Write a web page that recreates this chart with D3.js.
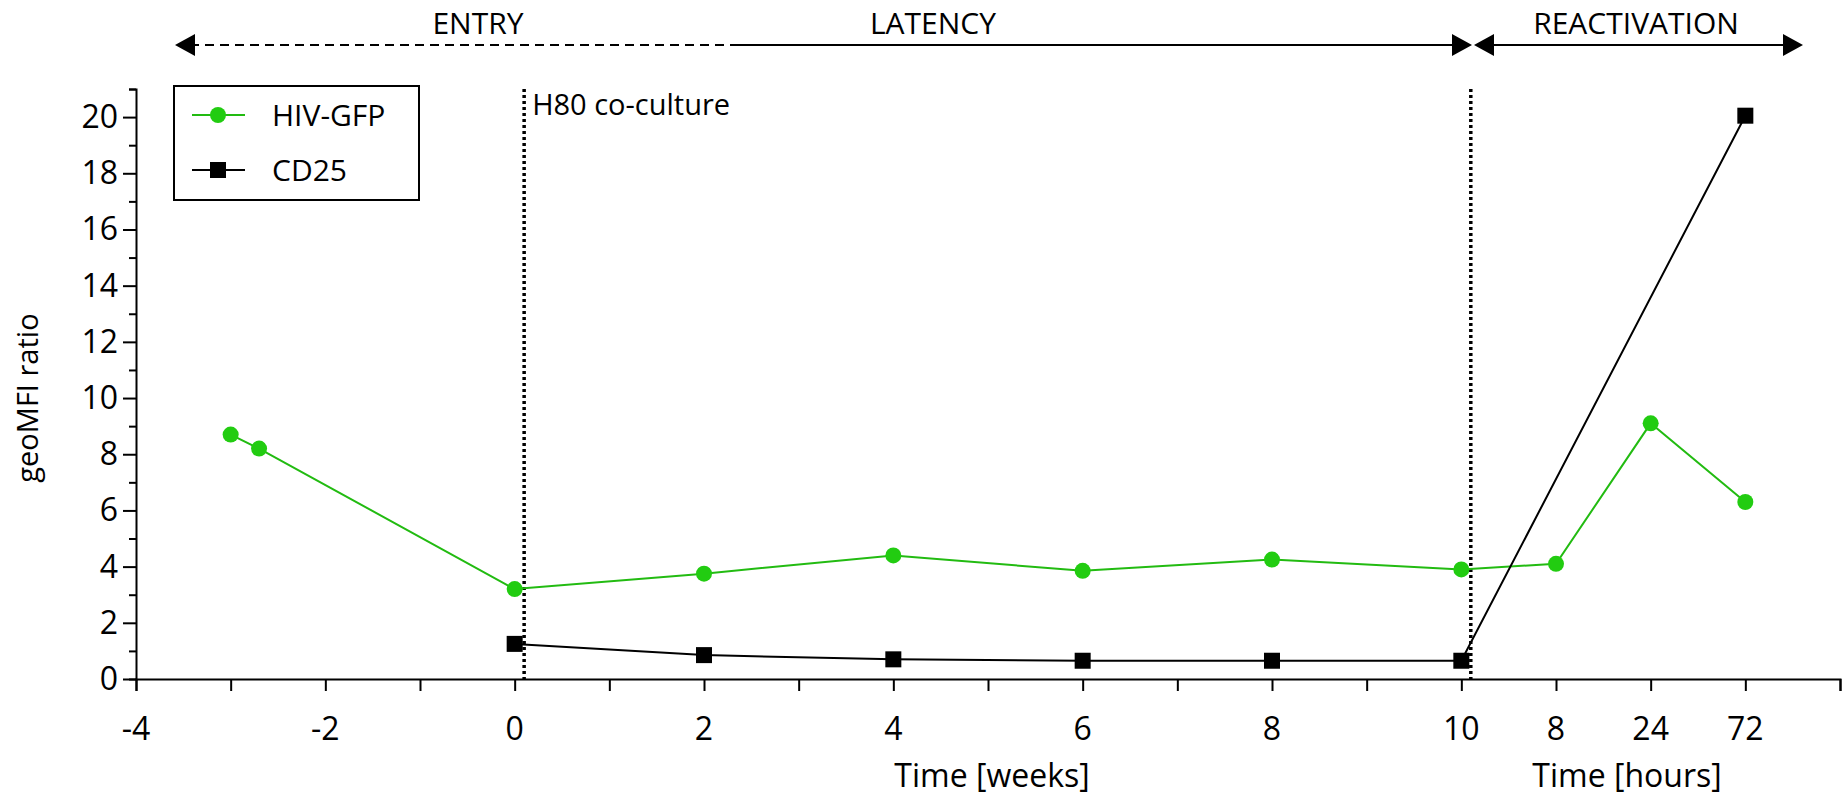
<!DOCTYPE html>
<html>
<head>
<script src="https://cdn.jsdelivr.net/npm/d3@7"></script>
<style>body{margin:0;background:#fff;font-family:"Open Sans",sans-serif;}</style>
</head>
<body>
<script>
var xTicks = [-4, -2, 0, 2, 4, 6, 8, 10, 11, 12, 13];
var xTickLabels = ["-4", "-2", "0", "2", "4", "6", "8", "10", "8", "24", "72"];
var gfpX = [-3, -2.7, 0, 2, 4, 6, 8, 10, 11, 12, 13];
var gfpY = [8.7, 8.2, 3.2, 3.75, 4.4, 3.85, 4.25, 3.9, 4.1, 9.1, 6.3];
var cdX = [0, 2, 4, 6, 8, 10, 13];
var cdY = [1.25, 0.85, 0.7, 0.65, 0.65, 0.65, 20.05];
var yTicks = [0, 2, 4, 6, 8, 10, 12, 14, 16, 18, 20];

var W = 1843, H = 800;
var svg = d3.select("body").append("svg").attr("width", W).attr("height", H);
var x = d3.scaleLinear().domain([-4, 14]).range([136, 1840]);
var y = d3.scaleLinear().domain([0, 21]).range([679, 89]);

// axes
var xa = svg.append("g").attr("transform", "translate(0," + y(0) + ")")
  .call(d3.axisBottom(x).tickValues(d3.range(-4, 15)).tickSize(12).tickFormat(""));
xa.selectAll("line").attr("stroke-width", 2);
xa.select(".domain").attr("stroke-width", 2);
svg.append("g").selectAll("text").data(xTicks).enter().append("text")
  .attr("x", function(d){return x(d)}).attr("y", y(0) + 61)
  .attr("text-anchor", "middle").attr("font-size", 32)
  .text(function(d, i){return xTickLabels[i]});

var ya = svg.append("g").attr("transform", "translate(" + x(-4) + ",0)")
  .call(d3.axisLeft(y).tickValues(d3.range(0, 22)).tickSize(7).tickFormat(""));
ya.selectAll("line").attr("stroke-width", 2);
ya.select(".domain").attr("stroke-width", 2);
ya.selectAll(".tick").filter(function(d){return d % 2 == 0}).select("line").attr("x2", -13);
svg.append("g").selectAll("text").data(yTicks).enter().append("text")
  .attr("x", x(-4) - 18).attr("y", function(d){return y(d) + 11})
  .attr("text-anchor", "end").attr("font-size", 32).text(function(d){return d});

svg.append("text").attr("transform", "translate(38," + y(10) + ") rotate(-90)")
  .attr("text-anchor", "middle").attr("font-size", 29).text("geoMFI ratio");
svg.append("text").attr("x", 992).attr("y", 787).attr("text-anchor", "middle")
  .attr("font-size", 32).text("Time [weeks]");
svg.append("text").attr("x", 1627).attr("y", 787).attr("text-anchor", "middle")
  .attr("font-size", 32).text("Time [hours]");

// dotted verticals
[0.1, 10.1].forEach(function(v){
  svg.append("line").attr("x1", x(v)).attr("x2", x(v)).attr("y1", y(21)).attr("y2", y(0))
    .attr("stroke", "#000").attr("stroke-width", 3.5).attr("stroke-dasharray", "3,3");
});
svg.append("text").attr("x", x(0.1) + 8).attr("y", 115).attr("font-size", 29).text("H80 co-culture");

// lines
var line = d3.line().x(function(d){return x(d[0])}).y(function(d){return y(d[1])});
var gfp = gfpX.map(function(v, i){return [v, gfpY[i]]});
var cd = cdX.map(function(v, i){return [v, cdY[i]]});
svg.append("path").attr("d", line(gfp)).attr("fill", "none").attr("stroke", "#22bb11").attr("stroke-width", 2);
svg.append("path").attr("d", line(cd)).attr("fill", "none").attr("stroke", "#000").attr("stroke-width", 2);
svg.selectAll("circle.g").data(gfp).enter().append("circle")
  .attr("cx", function(d){return x(d[0])}).attr("cy", function(d){return y(d[1])})
  .attr("r", 8).attr("fill", "#22cc11");
svg.selectAll("rect.c").data(cd).enter().append("rect")
  .attr("x", function(d){return x(d[0]) - 8}).attr("y", function(d){return y(d[1]) - 8})
  .attr("width", 16).attr("height", 16).attr("fill", "#000");

// legend
svg.append("rect").attr("x", 174).attr("y", 86).attr("width", 245).attr("height", 114)
  .attr("fill", "#fff").attr("stroke", "#000").attr("stroke-width", 2);
svg.append("line").attr("x1", 192).attr("x2", 245).attr("y1", 115).attr("y2", 115).attr("stroke", "#22bb11").attr("stroke-width", 2);
svg.append("circle").attr("cx", 218).attr("cy", 115).attr("r", 8).attr("fill", "#22cc11");
svg.append("text").attr("x", 272).attr("y", 126).attr("font-size", 30).text("HIV-GFP");
svg.append("line").attr("x1", 192).attr("x2", 245).attr("y1", 170).attr("y2", 170).attr("stroke", "#000").attr("stroke-width", 2);
svg.append("rect").attr("x", 210).attr("y", 162).attr("width", 16).attr("height", 16).attr("fill", "#000");
svg.append("text").attr("x", 272).attr("y", 181).attr("font-size", 30).text("CD25");

// phase arrows
var ay = 45;
function tri(px, dir){
  svg.append("path").attr("d", "M" + px + "," + ay + "l" + (dir * 20) + ",-11v22z").attr("fill", "#000");
}
svg.append("line").attr("x1", 190).attr("x2", 732).attr("y1", ay).attr("y2", ay)
  .attr("stroke", "#000").attr("stroke-width", 2).attr("stroke-dasharray", "9,6");
svg.append("line").attr("x1", 732).attr("x2", 1455).attr("y1", ay).attr("y2", ay)
  .attr("stroke", "#000").attr("stroke-width", 2);
tri(175, 1); tri(1472, -1);
svg.append("line").attr("x1", 1490).attr("x2", 1785).attr("y1", ay).attr("y2", ay)
  .attr("stroke", "#000").attr("stroke-width", 2);
tri(1474, 1); tri(1803, -1);
svg.append("text").attr("x", 478).attr("y", 34).attr("text-anchor", "middle").attr("font-size", 30).text("ENTRY");
svg.append("text").attr("x", 933).attr("y", 34).attr("text-anchor", "middle").attr("font-size", 30).text("LATENCY");
svg.append("text").attr("x", 1636).attr("y", 34).attr("text-anchor", "middle").attr("font-size", 30).text("REACTIVATION");
</script>
</body>
</html>
